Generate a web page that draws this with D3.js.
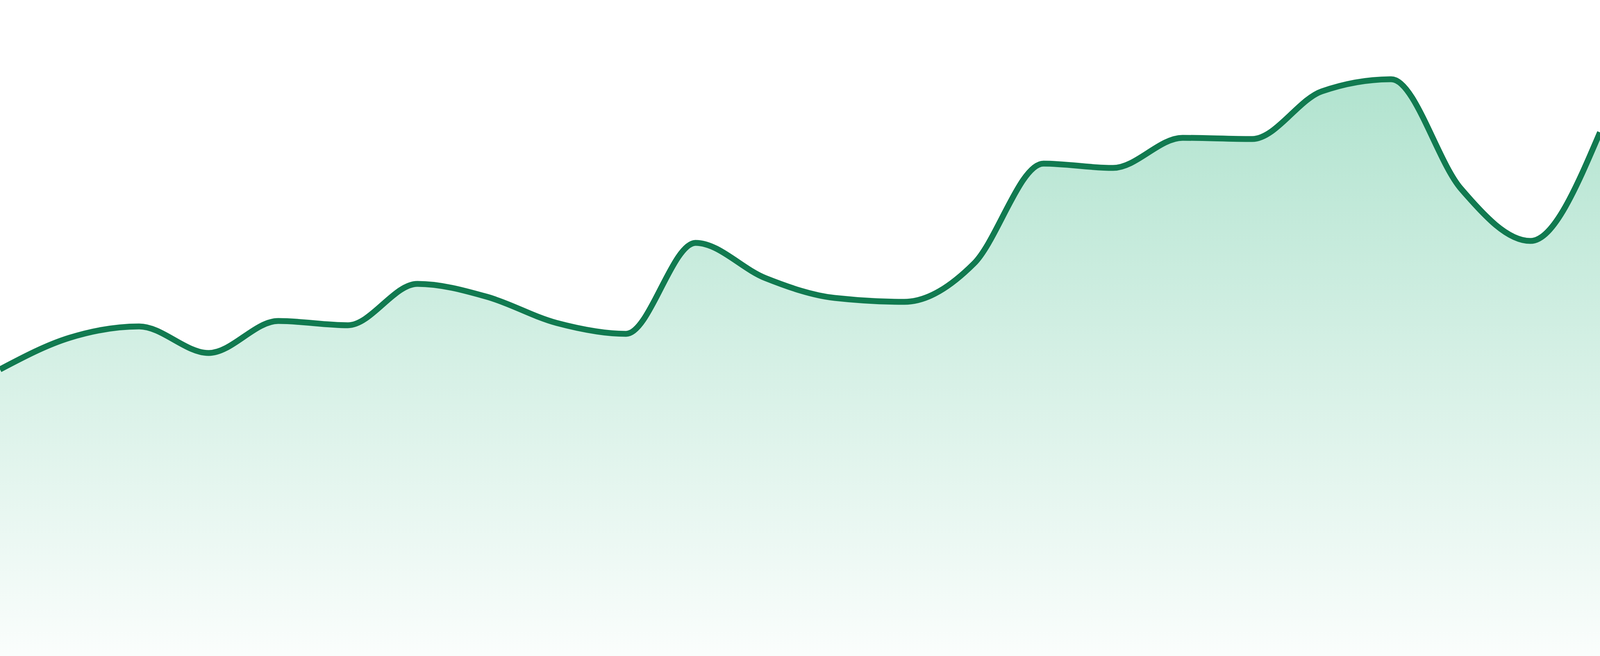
<!DOCTYPE html>
<html lang="en">
<head>
    <meta charset="UTF-8">
    <title>Area Trend</title>
    <script src="https://cdn.jsdelivr.net/npm/d3@7"></script>
    <style>
        html, body { margin: 0; padding: 0; background: #fff; overflow: hidden; }
        svg { display: block; }
    </style>
</head>
<body>
    <svg id="chart"></svg>

    <script type="text/javascript">
        // 24 periods, one value each
        const periods = d3.range(24).map(i => `P${i + 1}`);
        const values = [
          43.69, 48.51, 50.24, 46.19, 51.07, 50.42, 56.73, 54.76,
          50.77, 49.11, 62.98, 57.62, 54.58, 53.99, 59.82, 75.06,
          74.40, 78.99, 78.81, 86.07, 87.92, 71.25, 63.27, 79.82
        ];
        const yDomain = [0, 100];

        // fill whatever the viewport really is
        const width = window.innerWidth || 4800;
        const height = window.innerHeight || 1680;

        const svg = d3.select("#chart")
          .attr("width", width)
          .attr("height", height);

        const x = d3.scalePoint()
          .domain(periods)
          .range([0, width]);

        const y = d3.scaleLinear()
          .domain(yDomain)
          .range([height, 0]);

        const data = periods.map((p, i) => ({ p, v: values[i] }));

        // soft green fade under the line
        const grad = svg.append("defs")
          .append("linearGradient")
          .attr("id", "fill-grad")
          .attr("x1", 0).attr("y1", 0)
          .attr("x2", 0).attr("y2", 1);
        grad.append("stop").attr("offset", "0%")
          .attr("stop-color", "#14ab6e").attr("stop-opacity", 0.33);
        grad.append("stop").attr("offset", "100%")
          .attr("stop-color", "#14ab6e").attr("stop-opacity", 0.02);

        const area = d3.area()
          .x(d => x(d.p))
          .y0(height)
          .y1(d => y(d.v))
          .curve(d3.curveMonotoneX);

        const line = d3.line()
          .x(d => x(d.p))
          .y(d => y(d.v))
          .curve(d3.curveMonotoneX);

        svg.append("path")
          .datum(data)
          .attr("fill", "url(#fill-grad)")
          .attr("d", area);

        svg.append("path")
          .datum(data)
          .attr("fill", "none")
          .attr("stroke", "#117a50")
          .attr("stroke-width", 15 * height / 1680)
          .attr("d", line);
    </script>
</body>
</html>
